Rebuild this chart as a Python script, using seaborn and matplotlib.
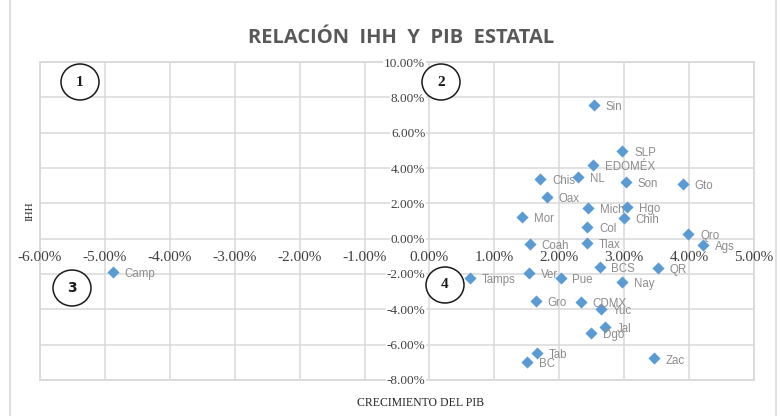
import matplotlib
matplotlib.use("Agg")
import matplotlib.pyplot as plt
import seaborn as sns
import pandas as pd
from matplotlib.patches import Ellipse, Rectangle
from matplotlib.ticker import FuncFormatter, MultipleLocator

estados = ["Sin", "SLP", "EDOMÉX", "Chis", "NL", "Son", "Gto", "Oax", "Mich", "Hgo",
           "Mor", "Chih", "Col", "Qro", "Coah", "Tlax", "Ags", "BCS", "QR", "Tamps",
           "Ver", "Pue", "Nay", "Gro", "CDMX", "Yuc", "Jal", "Dgo", "Tab", "BC",
           "Zac", "Camp"]
crec_pib = [2.53, 2.97, 2.52, 1.71, 2.29, 3.03, 3.90, 1.81, 2.44, 3.05,
            1.43, 2.99, 2.43, 3.99, 1.55, 2.43, 4.21, 2.62, 3.52, 0.62,
            1.54, 2.02, 2.97, 1.64, 2.33, 2.65, 2.70, 2.49, 1.65, 1.50,
            3.46, -4.88]
ihh = [7.59, 4.95, 4.15, 3.40, 3.51, 3.19, 3.08, 2.34, 1.72, 1.79,
       1.23, 1.15, 0.68, 0.25, -0.30, -0.26, -0.34, -1.62, -1.66, -2.23,
       -1.96, -2.23, -2.47, -3.51, -3.59, -3.99, -4.99, -5.35, -6.46, -6.97,
       -6.78, -1.91]

titulo = "RELACIÓN  IHH  Y  PIB  ESTATAL"
etiqueta_x = "CRECIMIENTO DEL PIB"
etiqueta_y = "IHH"
cuadrantes = ["1", "2", "3", "4"]

df = pd.DataFrame({"pib": crec_pib, "ihh": ihh, "estado": estados})

sns.set_theme(style="white")
W, H = 781, 416
fig = plt.figure(figsize=(W / 100, H / 100), dpi=100)
fig.patch.set_facecolor("white")

# outer chart border
fig.patches.append(Rectangle((10 / W, -0.01), (776 - 10) / W, 1.05, transform=fig.transFigure,
                             fill=False, edgecolor="#d9d9d9", lw=1.2, zorder=0))

left, right, top, bottom = 40, 754, 62, 380
ax = fig.add_axes([left / W, 1 - bottom / H, (right - left) / W, (bottom - top) / H])

sns.scatterplot(data=df, x="pib", y="ihh", marker="D", s=38, color="#5B9BD5",
                edgecolor="#5B9BD5", linewidth=0, ax=ax, zorder=3)

ax.set_xlim(-6, 5)
ax.set_ylim(-8, 10)
ax.xaxis.set_major_locator(MultipleLocator(1))
ax.yaxis.set_major_locator(MultipleLocator(2))
ax.xaxis.set_major_formatter(FuncFormatter(lambda v, p: f"{v:.2f}%"))
ax.yaxis.set_major_formatter(FuncFormatter(lambda v, p: f"{v:.2f}%"))
ax.grid(True, color="#d9d9d9", lw=1.1)
ax.set_axisbelow(True)

for s in ax.spines.values():
    s.set_visible(False)
ax.spines["left"].set_position(("data", 0))
ax.spines["bottom"].set_position(("data", 0))
ax.add_patch(Rectangle((0, 0), 1, 1, transform=ax.transAxes, fill=False,
                       edgecolor="#d9d9d9", lw=1.3, zorder=0.3, clip_on=False))

ax.tick_params(axis="both", length=0, labelsize=9.5, colors="#404040")
ax.tick_params(axis="x", pad=9)
ax.tick_params(axis="y", pad=3)
for t in ax.xaxis.get_major_ticks():
    t.label1.set_family("Liberation Serif")
    t.label1.set_fontsize(11)
for t in ax.yaxis.get_major_ticks():
    t.label1.set_family("Liberation Serif")
    t.label1.set_bbox(dict(facecolor="white", edgecolor="none", pad=0.6))

for x, y, n in zip(crec_pib, ihh, estados):
    ax.annotate(n, (x, y), xytext=(8.5, -1.5), textcoords="offset points",
                fontsize=8.3, color="#8c8c8c", family="Liberation Sans",
                ha="left", va="center", zorder=4)
ax.set_xlabel("")
ax.set_ylabel("")

fig.text(401 / W, 1 - 38 / H, titulo, ha="center", va="center", fontsize=14.5,
         fontweight="bold", color="#595959", family="Open Sans")
fig.text(421 / W, 1 - 403 / H, etiqueta_x, ha="center", va="center", fontsize=8.5,
         color="#262626", family="Liberation Serif")
fig.text(30 / W, 1 - 211 / H, etiqueta_y, ha="center", va="center", fontsize=8,
         rotation=90, color="#262626", family="Liberation Serif")

circ_pos = [(80, 82), (441, 82), (72, 288), (445, 285)]
circ_font = ["Liberation Serif", "Liberation Serif", "DejaVu Sans", "Liberation Serif"]
for (cx, cy), t, f in zip(circ_pos, cuadrantes, circ_font):
    fig.patches.append(Ellipse((cx / W, 1 - cy / H), 38 / W, 36 / H, transform=fig.transFigure,
                               fill=True, facecolor="white", edgecolor="#1a1a1a", lw=1.1, zorder=5))
    fig.text(cx / W, 1 - cy / H, t, ha="center", va="center", fontsize=11 if f != "DejaVu Sans" else 10,
             fontweight="bold", color="#1a1a1a", family=f, zorder=6)

fig.savefig("out.png", dpi=100)
